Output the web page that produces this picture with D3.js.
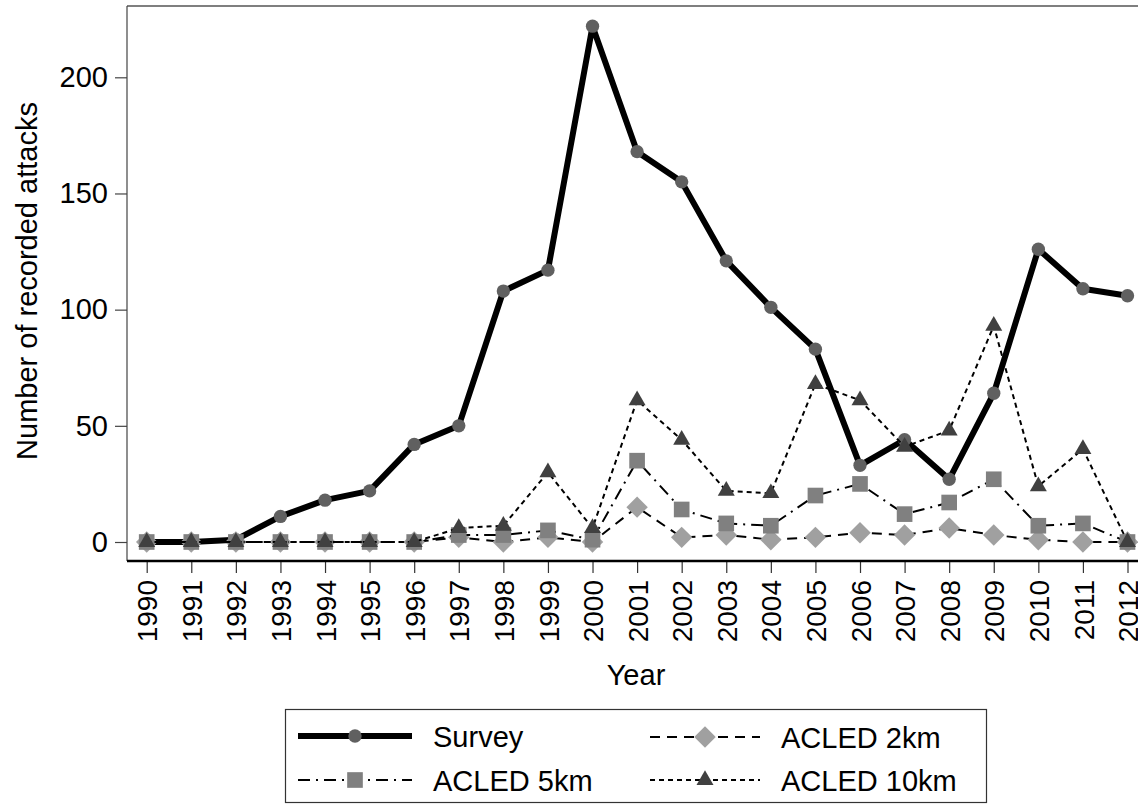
<!DOCTYPE html>
<html>
<head>
<meta charset="utf-8">
<script src="https://cdn.jsdelivr.net/npm/d3@7"></script>
<style>
  body { margin: 0; background: #fff; }
  text { font-family: "Liberation Sans", Arial, sans-serif; fill: #000; }
</style>
</head>
<body>
<div id="chart"></div>
<script>
// data
var years = [1990, 1991, 1992, 1993, 1994, 1995, 1996, 1997, 1998, 1999, 2000, 2001,
    2002, 2003, 2004, 2005, 2006, 2007, 2008, 2009, 2010, 2011, 2012];
var survey = [0, 0, 1, 11, 18, 22, 42, 50, 108, 117, 222, 168,
    155, 121, 101, 83, 33, 44, 27, 64, 126, 109, 106];
var acled2km = [0, 0, 0, 0, 0, 0, 0, 2, 0, 2, 0, 15,
    2, 3, 1, 2, 4, 3, 6, 3, 1, 0, 0];
var acled5km = [0, 0, 0, 0, 0, 0, 0, 3, 3, 5, 1, 35,
    14, 8, 7, 20, 25, 12, 17, 27, 7, 8, 0];
var acled10km = [0, 0, 0, 0, 0, 0, 0, 6, 7, 30, 6, 61,
    44, 22, 21, 68, 61, 41, 48, 93, 24, 40, 0];
var yTicks = [0, 50, 100, 150, 200];
var seriesNames = ["Survey", "ACLED 2km", "ACLED 5km", "ACLED 10km"];

var width = 1138, height = 804;

var svg = d3.select("#chart")
    .append("svg")
    .attr("width", width)
    .attr("height", height);

// plot region edges
var plotLeft = 127, plotTop = 6, plotBottom = 561, plotRight = 1138;

var x = d3.scaleLinear()
    .domain([1990, 2012])
    .range([146.7, 1127.5]);

var y = d3.scaleLinear()
    .domain([0, 200])
    .range([542, 77.3]);

// series styles
var styles = [
    { values: survey, width: 6, dash: null, symbol: d3.symbolCircle, size: 140, fill: "#606060", rot: 0 },
    { values: acled2km, width: 2, dash: "10,7", symbol: d3.symbolSquare, size: 230, fill: "#a0a0a0", rot: 45 },
    { values: acled5km, width: 2, dash: "12,6,2,6", symbol: d3.symbolSquare, size: 245, fill: "#808080", rot: 0 },
    { values: acled10km, width: 2, dash: "5,4", symbol: d3.symbolTriangle, size: 125, fill: "#404040", rot: 0 }
];

// frame: top line and left axis
svg.append("line")
    .attr("x1", plotLeft).attr("x2", plotRight)
    .attr("y1", plotTop).attr("y2", plotTop)
    .attr("stroke", "#555").attr("stroke-width", 1.5);

// y axis
var yAxisCall = d3.axisLeft(y)
    .tickValues(yTicks)
    .tickSize(12)
    .tickPadding(7);
var gy = svg.append("g")
    .attr("class", "y-axis")
    .attr("transform", "translate(" + plotLeft + ",0)")
    .call(yAxisCall);
gy.select(".domain").remove();
gy.append("line")
    .attr("x1", 0).attr("x2", 0)
    .attr("y1", plotTop).attr("y2", plotBottom)
    .attr("stroke", "#444").attr("stroke-width", 1.2);
gy.selectAll(".tick line").attr("stroke", "#444").attr("stroke-width", 1.2);
gy.selectAll(".tick text")
    .attr("font-size", "29px")
    .attr("fill", "#000");

// x axis
var xAxisCall = d3.axisBottom(x)
    .tickValues(years)
    .tickFormat(d3.format("d"))
    .tickSize(12);
var gx = svg.append("g")
    .attr("class", "x-axis")
    .attr("transform", "translate(0," + plotBottom + ")")
    .call(xAxisCall);
gx.select(".domain").remove();
gx.append("line")
    .attr("x1", plotLeft).attr("x2", plotRight)
    .attr("y1", 0).attr("y2", 0)
    .attr("stroke", "#000").attr("stroke-width", 2.5);
gx.selectAll(".tick line").attr("stroke", "#333").attr("stroke-width", 1.2);
gx.selectAll(".tick text")
    .attr("font-size", "28px")
    .attr("fill", "#000")
    .attr("text-anchor", "end")
    .attr("x", -19)
    .attr("y", 0)
    .attr("dy", "0.36em")
    .attr("transform", "rotate(-90)");

// axis labels
svg.append("text")
    .attr("x", 636)
    .attr("y", 685)
    .attr("font-size", "29px")
    .attr("text-anchor", "middle")
    .text("Year");

svg.append("text")
    .attr("x", -281)
    .attr("y", 37)
    .attr("font-size", "29px")
    .attr("text-anchor", "middle")
    .attr("transform", "rotate(-90)")
    .text("Number of recorded attacks");

// lines and markers
var line = d3.line()
    .x(function(d, i) { return x(years[i]); })
    .y(function(d) { return y(d); });

styles.forEach(function(s) {
    svg.append("path")
        .datum(s.values)
        .attr("d", line)
        .attr("fill", "none")
        .attr("stroke", "#000")
        .attr("stroke-width", s.width)
        .attr("stroke-linejoin", "round")
        .attr("stroke-dasharray", s.dash);

    svg.append("g").selectAll("path")
        .data(s.values)
        .enter()
        .append("path")
        .attr("d", d3.symbol().type(s.symbol).size(s.size))
        .attr("transform", function(d, i) {
            return "translate(" + x(years[i]) + "," + y(d) + ") rotate(" + s.rot + ")";
        })
        .attr("fill", s.fill);
});

// legend
var legend = svg.append("g").attr("class", "legend");
legend.append("rect")
    .attr("x", 285.5).attr("y", 709.5)
    .attr("width", 701).attr("height", 93)
    .attr("fill", "none")
    .attr("stroke", "#333")
    .attr("stroke-width", 1.2);

var legPos = [
    { x1: 298, x2: 412, y: 736 },
    { x1: 650, x2: 760, y: 737 },
    { x1: 298, x2: 412, y: 780 },
    { x1: 650, x2: 760, y: 780 }
];

seriesNames.forEach(function(name, i) {
    var s = styles[i], p = legPos[i];
    legend.append("line")
        .attr("x1", p.x1).attr("x2", p.x2)
        .attr("y1", p.y).attr("y2", p.y)
        .attr("stroke", "#000")
        .attr("stroke-width", s.width)
        .attr("stroke-dasharray", s.dash);
    legend.append("path")
        .attr("d", d3.symbol().type(s.symbol).size(s.size))
        .attr("transform", "translate(" + (p.x1 + p.x2) / 2 + "," + p.y + ") rotate(" + s.rot + ")")
        .attr("fill", s.fill);
    legend.append("text")
        .attr("x", p.x2 + 21)
        .attr("y", p.y + 11)
        .attr("font-size", "29px")
        .text(name);
});
</script>
</body>
</html>
